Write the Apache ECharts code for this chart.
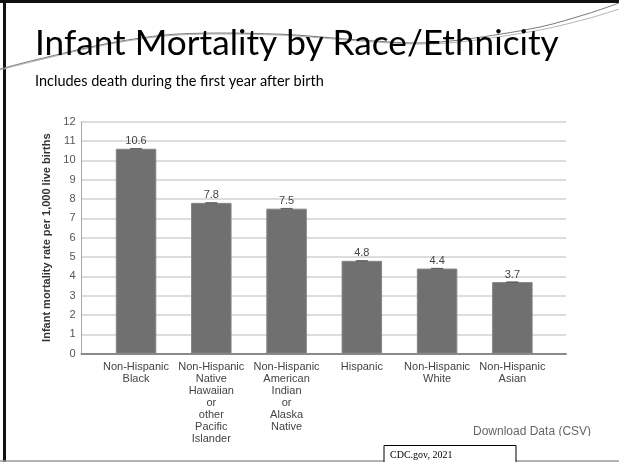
<!DOCTYPE html>
<html>
<head>
<meta charset="utf-8">
<script src="https://cdn.jsdelivr.net/npm/echarts@6/dist/echarts.min.js"></script>
<style>
html,body{margin:0;padding:0;background:#fff;}
#chart{width:619px;height:462px;}
</style>
</head>
<body>
<div id="chart"></div>
<script>
var categories = [
  'Non-Hispanic\nBlack',
  'Non-Hispanic\nNative\nHawaiian\nor\nother\nPacific\nIslander',
  'Non-Hispanic\nAmerican\nIndian\nor\nAlaska\nNative',
  'Hispanic',
  'Non-Hispanic\nWhite',
  'Non-Hispanic\nAsian'
];
var rates = [10.6, 7.8, 7.5, 4.8, 4.4, 3.7];
var yMin = 0, yMax = 12, yStep = 1;
var titleText = 'Infant Mortality by Race/Ethnicity';
var subtitleText = 'Includes death during the first year after birth';
var yAxisTitle = 'Infant mortality rate per 1,000 live births';
var downloadText = 'Download Data (CSV)';
var sourceText = 'CDC.gov, 2021';

var chart = echarts.init(document.getElementById('chart'), null, {renderer: 'canvas'});
var AR = 'Liberation Sans, Arial, sans-serif';

var swooshA = [[0,69],[35,60],[110,43],[178,34],[276,34],[360,40],[415,43],[460,40],[540,27],[590,13],[619,3]];
var swooshB = [[0,70],[35,61],[110,44],[178,35],[276,35],[360,41],[415,44],[460,42],[540,30],[590,18],[619,9]];

var option = {
  backgroundColor: '#fff',
  animation: false,
  grid: [
    {left: 81.5, right: 53, top: 121.7, bottom: 108.4},
    {left: 98.4, right: 69, top: 121.7, bottom: 108.4}
  ],
  xAxis: [
    {type: 'category', gridIndex: 0, data: [''], axisLine: {show: true, lineStyle: {color: '#8a8a8a', width: 2}},
     axisTick: {show: false}, axisLabel: {show: false}, splitLine: {show: false}},
    {type: 'category', gridIndex: 1, data: categories, axisLine: {show: false}, axisTick: {show: false},
     axisLabel: {interval: 0, margin: 7, fontFamily: AR, fontSize: 11, lineHeight: 12, color: '#444', align: 'center'}}
  ],
  yAxis: [
    {type: 'value', gridIndex: 0, min: yMin, max: yMax, interval: yStep,
     name: yAxisTitle, nameLocation: 'middle', nameGap: 27, nameRotate: 90,
     nameTextStyle: {fontFamily: AR, fontSize: 11, fontWeight: 'bold', color: '#333'},
     axisLine: {show: true, lineStyle: {color: '#aaa', width: 1}}, axisTick: {show: false},
     axisLabel: {margin: 6, fontFamily: AR, fontSize: 11, color: '#555'},
     splitLine: {show: true, lineStyle: {color: '#d2d2d2', width: 1.5}}},
    {type: 'value', gridIndex: 1, min: yMin, max: yMax, interval: yStep, show: false, splitLine: {show: false}}
  ],
  series: [
    {type: 'bar', xAxisIndex: 1, yAxisIndex: 1, data: rates, barWidth: 40.5,
     itemStyle: {color: '#707070', borderColor: '#858585', borderWidth: 1},
     label: {show: true, position: 'top', distance: 2, fontFamily: AR, fontSize: 11, color: '#444'}},
    {type: 'scatter', xAxisIndex: 1, yAxisIndex: 1, data: rates, symbol: 'rect', symbolSize: [12, 1.5],
     itemStyle: {color: '#4a4a4a'}, silent: true, z: 5}
  ],
  graphic: [
    {type: 'rect', shape: {x: 0, y: 0, width: 619, height: 3}, style: {fill: '#111'}},
    {type: 'rect', shape: {x: 3, y: 0, width: 3, height: 462}, style: {fill: '#111'}},
    {type: 'line', shape: {x1: 0, y1: 461, x2: 619, y2: 461}, style: {stroke: '#999', lineWidth: 1.5}},
    {type: 'polyline', shape: {points: swooshB, smooth: 0.3}, style: {stroke: '#b5b5b5', lineWidth: 1, fill: null}},
    {type: 'polyline', shape: {points: swooshA, smooth: 0.3}, style: {stroke: '#7a7a7a', lineWidth: 1, fill: null}},
    {type: 'text', x: 35, y: 44, style: {text: titleText, font: '35.2px Lato', fill: '#000', verticalAlign: 'middle'}},
    {type: 'text', x: 35, y: 81.5, style: {text: subtitleText, font: '14.5px Lato', fill: '#000', verticalAlign: 'middle'}},
    {type: 'text', x: 473, y: 432, style: {text: downloadText, font: '12px "Liberation Sans"', fill: '#666', verticalAlign: 'middle'}},
    {type: 'rect', shape: {x: 460, y: 436, width: 150, height: 8}, style: {fill: '#fff'}},
    {type: 'rect', shape: {x: 384, y: 445.5, width: 132, height: 20}, style: {fill: '#fff', stroke: '#000', lineWidth: 1}},
    {type: 'text', x: 390, y: 455, style: {text: sourceText, font: '10px "Liberation Serif"', fill: '#000', verticalAlign: 'middle'}}
  ]
};
chart.setOption(option);
</script>
</body>
</html>
